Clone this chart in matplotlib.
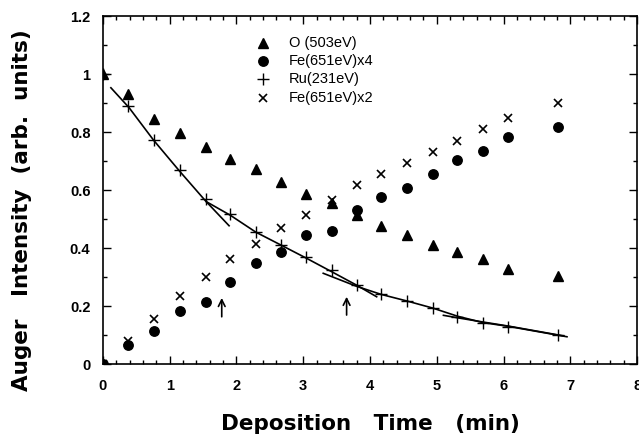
import matplotlib
matplotlib.use("Agg")
import matplotlib.pyplot as plt
from matplotlib.ticker import MultipleLocator

# Data
t = [0.0, 0.38, 0.76, 1.15, 1.54, 1.91, 2.29, 2.67, 3.04, 3.43, 3.80, 4.17, 4.56, 4.94, 5.31, 5.69, 6.07, 6.82]
o_503 = [1.0, 0.933, 0.845, 0.798, 0.749, 0.708, 0.673, 0.627, 0.586, 0.556, 0.514, 0.477, 0.445, 0.410, 0.385, 0.361, 0.328, 0.305]
fe_x4 = [0.0, 0.066, 0.115, 0.184, 0.215, 0.282, 0.347, 0.386, 0.445, 0.459, 0.533, 0.575, 0.606, 0.656, 0.703, 0.736, 0.784, 0.816]
ru_231 = [1.0, 0.890, 0.772, 0.669, 0.569, 0.516, 0.456, 0.410, 0.370, 0.324, 0.272, 0.241, 0.218, 0.192, 0.163, 0.142, 0.129, 0.100]
fe_x2 = [0.0, 0.080, 0.155, 0.233, 0.299, 0.363, 0.414, 0.468, 0.515, 0.566, 0.617, 0.657, 0.694, 0.731, 0.771, 0.810, 0.848, 0.899]

# Fit line segments
fit1_t = [0.12, 0.39, 0.76, 1.15, 1.54, 1.89]
fit1_y = [0.953, 0.885, 0.772, 0.665, 0.562, 0.477]
fit2_t = [1.55, 1.91, 2.29, 2.67, 3.04, 3.43, 3.80, 4.10]
fit2_y = [0.560, 0.513, 0.455, 0.410, 0.366, 0.318, 0.272, 0.232]
fit3_t = [3.30, 3.80, 4.17, 4.56, 4.94, 5.31, 5.69, 6.07, 6.95]
fit3_y = [0.313, 0.268, 0.240, 0.217, 0.193, 0.165, 0.143, 0.130, 0.094]
fit4_t = [5.10, 5.35, 5.69, 6.07, 6.90]
fit4_y = [0.168, 0.158, 0.145, 0.131, 0.097]

arrow_x = [1.78, 3.65]
arrow_y0 = [0.163, 0.169]
arrow_y1 = [0.228, 0.232]

labels = ["O (503eV)", "Fe(651eV)x4", "Ru(231eV)", "Fe(651eV)x2"]

plt.rcParams['font.family'] = ['Liberation Sans', 'DejaVu Sans']

fig = plt.figure(figsize=(6.39, 4.37), dpi=100)
ax = fig.add_axes([0.161, 0.167, 0.836, 0.796])

lw = 1.2
for ft, fy in [(fit1_t, fit1_y), (fit2_t, fit2_y), (fit3_t, fit3_y), (fit4_t, fit4_y)]:
    ax.plot(ft, fy, color='black', lw=lw, zorder=2)

ax.plot(t, o_503, linestyle='none', marker='^', ms=6.5, color='black', zorder=3)
ax.plot(t, fe_x4, linestyle='none', marker='o', ms=6.8, color='black', zorder=3)
ax.plot(t, ru_231, linestyle='none', marker='+', ms=8, mew=1.0, color='black', zorder=3)
ax.plot(t, fe_x2, linestyle='none', marker='x', ms=5.5, mew=1.2, color='black', zorder=3)

for xa, y0, y1 in zip(arrow_x, arrow_y0, arrow_y1):
    ax.annotate('', xy=(xa, y1), xytext=(xa, y0),
                arrowprops=dict(arrowstyle='->', color='black', lw=1.2,
                                shrinkA=0, shrinkB=0, mutation_scale=12))

# legend drawn as text + markers
leg_x_m = 2.40
leg_x_t = 2.78
leg_y = [1.108, 1.046, 0.983, 0.918]
mk = [('^', 6.5, 1.0), ('o', 6.8, 1.0), ('+', 8, 1.0), ('x', 5.5, 1.2)]
for (m, s, mw), yy, lab in zip(mk, leg_y, labels):
    ax.plot([leg_x_m], [yy], linestyle='none', marker=m, ms=s, mew=mw, color='black')
    ax.text(leg_x_t, yy, lab, fontsize=10.5, va='center', ha='left')

ax.set_xlim(0, 8)
ax.set_ylim(0, 1.2)
ax.xaxis.set_major_locator(MultipleLocator(1))
ax.xaxis.set_minor_locator(MultipleLocator(0.2))
ax.yaxis.set_major_locator(MultipleLocator(0.2))
ax.yaxis.set_minor_locator(MultipleLocator(0.1))
ax.set_yticks([0, 0.2, 0.4, 0.6, 0.8, 1.0, 1.2])
ax.set_yticklabels(['0', '0.2', '0.4', '0.6', '0.8', '1', '1.2'])
ax.tick_params(which='both', direction='in', top=True, right=True, width=1.0)
ax.tick_params(which='major', length=6, labelsize=10.5)
ax.tick_params(axis='x', which='major', pad=11)
ax.tick_params(axis='y', which='major', pad=9)
ax.tick_params(which='minor', length=3)
for lab in ax.get_xticklabels() + ax.get_yticklabels():
    lab.set_fontweight('bold')
for sp in ax.spines.values():
    sp.set_linewidth(1.2)

ax.set_xlabel('Deposition   Time   (min)', fontsize=15.5, fontweight='bold',
              family='DejaVu Sans', labelpad=15)
ax.set_ylabel('Auger   Intensity  (arb.  units)', fontsize=15.5, fontweight='bold',
              family='DejaVu Sans')
ax.yaxis.set_label_coords(-0.133, 0.443)

fig.savefig('out.png', dpi=100)
